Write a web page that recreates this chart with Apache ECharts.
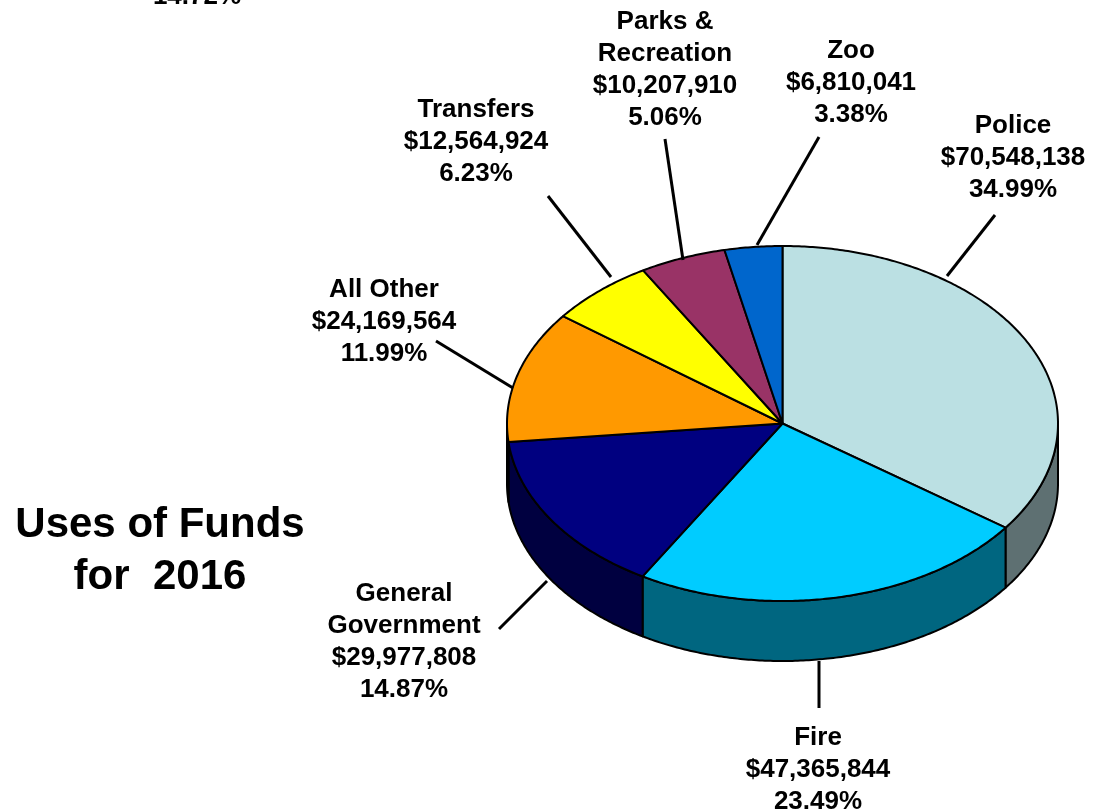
<!DOCTYPE html>
<html>
<head>
<meta charset="utf-8">
<title>Uses of Funds for 2016</title>
<script src="https://cdn.jsdelivr.net/npm/echarts@6/dist/echarts.min.js"></script>
<style>
  html, body { margin: 0; padding: 0; background: #fff; }
  #chart { width: 1094px; height: 811px; }
</style>
</head>
<body>
<div id="chart"></div>
<script>
// values, clockwise from 12 o'clock
const categories = ['Police', 'Fire', 'General\nGovernment', 'All Other', 'Transfers', 'Parks &\nRecreation', 'Zoo']
const dollars = [70548138, 47365844, 29977808, 24169564, 12564924, 10207910, 6810041]
const percents = ['34.99%', '23.49%', '14.87%', '11.99%', '6.23%', '5.06%', '3.38%']

const topColors = ['#BBE0E3', '#00CCFF', '#000080', '#FF9900', '#FFFF00', '#993366', '#0066CC']
const sideColors = ['#5E7072', '#006680', '#000040', '#804C00', '#808000', '#4D1A33', '#003366']

// label centre and leader line [x1, y1, x2, y2] per category
const labelCentres = [[1013, 158], [818, 770], [404, 642], [384, 322], [476, 142], [665, 70], [851, 83]]
const leaders = [
  [995, 215, 947, 276],
  [819, 661, 819, 708],
  [547, 581, 499, 629],
  [436, 341, 513, 388],
  [548, 196, 611, 277],
  [665, 139, 683, 260],
  [819, 137, 757, 245]
]

// pie geometry
const cx = 782.5
const cy = 423.5
const rx = 275.5
const ry = 177.5
const depth = 60
const font = 'bold 26px "Liberation Sans", Arial, sans-serif'

const total = dollars.reduce((a, b) => a + b, 0)
let running = 0
const pieData = dollars.map((v, i) => {
  const start = running / total * Math.PI * 2
  running += v
  return { value: [i, start, running / total * Math.PI * 2] }
})

// angle is clockwise from the top
const onEllipse = (a, dy) => [cx + rx * Math.sin(a), cy - ry * Math.cos(a) + (dy || 0)]

const arcPoints = (a0, a1, dy) => {
  const n = Math.max(2, Math.ceil((a1 - a0) / 0.01))
  const pts = []
  for (let k = 0; k <= n; k++) {
    pts.push(onEllipse(a0 + (a1 - a0) * k / n, dy))
  }
  return pts
}

const renderSide = (params, api) => {
  const i = api.value(0)
  // only the front half of the rim can be seen
  const a0 = Math.max(api.value(1), Math.PI / 2)
  const a1 = Math.min(api.value(2), Math.PI * 1.5)
  if (a1 <= a0) return null
  const points = arcPoints(a0, a1, 0).concat(arcPoints(a0, a1, depth).reverse())
  return {
    type: 'polygon',
    shape: { points },
    style: { fill: sideColors[i], stroke: '#000', lineWidth: 2, lineJoin: 'round' }
  }
}

const renderTop = (params, api) => {
  const i = api.value(0)
  const points = [[cx, cy]].concat(arcPoints(api.value(1), api.value(2), 0))
  return {
    type: 'polygon',
    shape: { points },
    style: { fill: topColors[i], stroke: '#000', lineWidth: 2, lineJoin: 'round' }
  }
}

const renderLabel = (params, api) => {
  const i = api.value(0)
  const line = leaders[i]
  return {
    type: 'group',
    children: [
      {
        type: 'line',
        shape: { x1: line[0], y1: line[1], x2: line[2], y2: line[3] },
        style: { stroke: '#000', lineWidth: 3 }
      },
      {
        type: 'text',
        style: {
          text: categories[i] + '\n$' + dollars[i].toLocaleString('en-US') + '\n' + percents[i],
          x: labelCentres[i][0],
          y: labelCentres[i][1],
          align: 'center',
          verticalAlign: 'middle',
          font: font,
          lineHeight: 32,
          fill: '#000'
        }
      }
    ]
  }
}

const chart = echarts.init(document.getElementById('chart'), null, { renderer: 'canvas' })
chart.setOption({
  animation: false,
  backgroundColor: '#fff',
  tooltip: { show: false },
  graphic: [
    {
      type: 'text',
      style: {
        text: 'Uses of Funds\nfor  2016',
        x: 160,
        y: 551,
        align: 'center',
        verticalAlign: 'middle',
        font: 'bold 42px "Liberation Sans", Arial, sans-serif',
        lineHeight: 52,
        fill: '#000'
      }
    },
    // label cut off by the top of the page in the original
    {
      type: 'text',
      style: {
        text: '14.72%',
        x: 197,
        y: -3,
        align: 'center',
        verticalAlign: 'middle',
        font: font,
        fill: '#000'
      }
    }
  ],
  series: [
    { type: 'custom', coordinateSystem: 'none', silent: true, renderItem: renderSide, data: pieData, z: 1 },
    { type: 'custom', coordinateSystem: 'none', silent: true, renderItem: renderTop, data: pieData, z: 2 },
    { type: 'custom', coordinateSystem: 'none', silent: true, renderItem: renderLabel, data: pieData, z: 3 }
  ]
})
</script>
</body>
</html>
